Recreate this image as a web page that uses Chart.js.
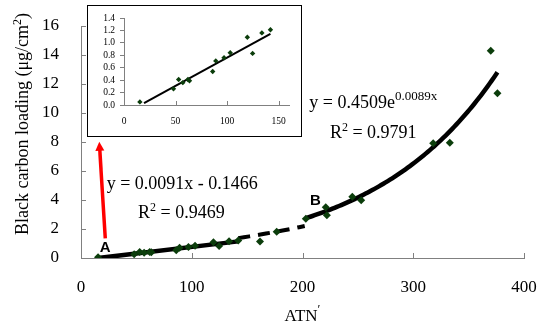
<!DOCTYPE html>
<html lang="en">
<head>
<meta charset="UTF-8">
<title>Black carbon loading vs ATN</title>
<script src="https://cdn.jsdelivr.net/npm/chart.js"></script>
<style>
  body { margin: 0; background: #fff; }
  #wrap { position: relative; width: 555px; height: 335px; }
  #inset { position: absolute; left: 87px; top: 5px; width: 213px; height: 130px;
           border: 1px solid #000; background: #fff; }
  #inset canvas { display: block; }
</style>
</head>
<body>
<div id="wrap">
  <canvas id="mainChart" width="555" height="335"></canvas>
  <div id="inset"><canvas id="insetChart" width="213" height="130"></canvas></div>
</div>
<script>
// measured points: attenuation (ATN') vs black carbon loading (ug/cm2)
const atn = [15.4, 48, 53, 57, 62, 63.5, 86, 89, 97, 103, 119.6, 124.7, 133.7, 142,
             161.6, 176.7, 203, 221, 222, 245, 253, 318, 333, 370, 376];
const bc  = [0.05, 0.26, 0.41, 0.36, 0.41, 0.39, 0.54, 0.71, 0.76, 0.84, 1.09, 0.83, 1.16, 1.21,
             1.13, 1.81, 2.71, 3.5, 2.95, 4.23, 3.98, 7.91, 7.95, 14.3, 11.36];

const xTicks = [0, 100, 200, 300, 400];
const yTicks = [0, 2, 4, 6, 8, 10, 12, 14, 16];
const insetXTicks = [0, 50, 100, 150];
const insetYTicks = [0, 0.2, 0.4, 0.6, 0.8, 1.0, 1.2, 1.4];

// fitted curves
const linSlope = 0.0091, linIntercept = -0.1466, linR2 = 0.9469;
const expA = 0.4509, expB = 0.0089, expR2 = 0.9791;
const linEnd = 13;   // last point of the linear range
const expStart = 16; // first point of the exponential range

const green = '#0b3d0b';
const axisGray = '#808080';
const serif = "'Liberation Serif', 'Times New Roman', serif";
const sans = "'Liberation Sans', Arial, sans-serif";

const lin = x => linSlope * x + linIntercept;
const expo = x => expA * Math.exp(expB * x);

const points = atn.map((x, i) => ({ x, y: bc[i] }));
const linLine = [atn[0], atn[linEnd]].map(x => ({ x, y: lin(x) }));
const expLine = [];
for (let x = atn[expStart]; x <= atn[atn.length - 1]; x += 2) expLine.push({ x, y: expo(x) });
expLine.push({ x: atn[atn.length - 1], y: expo(atn[atn.length - 1]) });
const bridgeLine = [];
for (let x = atn[linEnd]; x <= atn[expStart]; x += 5) bridgeLine.push({ x, y: (lin(x) + expo(x)) / 2 });

// short tick marks drawn on the inner side of the axes
function insideTicks(xVals, yVals, len) {
  return {
    id: 'insideTicks',
    afterDatasetsDraw(chart) {
      const { ctx, chartArea: a, scales: { x, y } } = chart;
      ctx.save();
      ctx.strokeStyle = axisGray;
      ctx.lineWidth = 1;
      ctx.beginPath();
      xVals.forEach(v => {
        const px = Math.round(x.getPixelForValue(v)) + 0.5;
        ctx.moveTo(px, a.bottom); ctx.lineTo(px, a.bottom - len);
      });
      yVals.forEach(v => {
        const py = Math.round(y.getPixelForValue(v)) + 0.5;
        ctx.moveTo(a.left, py); ctx.lineTo(a.left + len, py);
      });
      ctx.stroke();
      ctx.restore();
    }
  };
}

// draw a run of text pieces with optional size / raise (for superscripts)
function drawRich(ctx, x, y, parts, align) {
  let w = 0;
  parts.forEach(p => { ctx.font = p.size + 'px ' + serif; w += ctx.measureText(p.t).width; });
  let cx = align === 'center' ? x - w / 2 : x;
  ctx.textAlign = 'left';
  ctx.textBaseline = 'alphabetic';
  parts.forEach(p => {
    ctx.font = p.size + 'px ' + serif;
    ctx.fillText(p.t, cx, y - (p.dy || 0));
    cx += ctx.measureText(p.t).width;
  });
}

const mainDecor = {
  id: 'mainDecor',
  afterDraw(chart) {
    const { ctx, chartArea: a, scales: { x, y } } = chart;
    ctx.save();

    // red arrow from point A up to the zoomed panel
    const x0 = x.getPixelForValue(21.9), y0 = y.getPixelForValue(1.36);
    const x1 = x.getPixelForValue(16.5), y1 = y.getPixelForValue(8.02);
    const ang = Math.atan2(y1 - y0, x1 - x0);
    ctx.strokeStyle = '#ff0000';
    ctx.fillStyle = '#ff0000';
    ctx.lineWidth = 3.5;
    ctx.beginPath();
    ctx.moveTo(x0, y0);
    ctx.lineTo(x1 - 6 * Math.cos(ang), y1 - 6 * Math.sin(ang));
    ctx.stroke();
    ctx.beginPath();
    ctx.moveTo(x1, y1);
    ctx.lineTo(x1 - 9 * Math.cos(ang) + 4.5 * Math.sin(ang), y1 - 9 * Math.sin(ang) - 4.5 * Math.cos(ang));
    ctx.lineTo(x1 - 9 * Math.cos(ang) - 4.5 * Math.sin(ang), y1 - 9 * Math.sin(ang) + 4.5 * Math.cos(ang));
    ctx.closePath();
    ctx.fill();

    // point labels
    ctx.fillStyle = '#000';
    ctx.font = 'bold 15px ' + sans;
    ctx.textAlign = 'center';
    ctx.textBaseline = 'middle';
    ctx.fillText('A', x.getPixelForValue(21.9), y.getPixelForValue(0.72));
    ctx.fillText('B', x.getPixelForValue(211.6), y.getPixelForValue(3.97));

    // fit equations
    const ex = v => x.getPixelForValue(v), ey = v => y.getPixelForValue(v) + 6;
    drawRich(ctx, ex(23.2), ey(5.15), [
      { t: 'y = ' + linSlope.toFixed(4) + 'x - ' + Math.abs(linIntercept).toFixed(4), size: 18 }]);
    drawRich(ctx, ex(51.5), ey(3.19), [
      { t: 'R', size: 18 }, { t: '2', size: 12, dy: 7 }, { t: ' = ' + linR2.toFixed(4), size: 18 }]);
    drawRich(ctx, ex(206.1), ey(10.78), [
      { t: 'y = ' + expA.toFixed(4) + 'e', size: 18 }, { t: expB.toFixed(4) + 'x', size: 13, dy: 8 }]);
    drawRich(ctx, ex(224.8), ey(8.71), [
      { t: 'R', size: 18 }, { t: '2', size: 12, dy: 7 }, { t: ' = ' + expR2.toFixed(4), size: 18 }]);

    // axis titles
    drawRich(ctx, (a.left + a.right) / 2, a.bottom + 63, [
      { t: 'ATN', size: 17 }, { t: '\u2032', size: 13, dy: 8 }], 'center');
    ctx.translate(22, a.top + 98);
    ctx.rotate(-Math.PI / 2);
    drawRich(ctx, 0, 6, [
      { t: 'Black carbon loading (\u03bcg/cm', size: 18 }, { t: '2', size: 12, dy: 7 }, { t: ')', size: 18 }], 'center');
    ctx.restore();
  }
};

new Chart(document.getElementById('mainChart'), {
  type: 'scatter',
  data: {
    datasets: [
      { data: points, pointStyle: 'rectRot', radius: 4, backgroundColor: green, borderColor: green, borderWidth: 0, order: 0 },
      { data: linLine, showLine: true, borderColor: '#000', borderWidth: 4.5, pointRadius: 0, order: 1 },
      { data: bridgeLine, showLine: true, borderColor: '#000', borderWidth: 4, borderDash: [12, 8], pointRadius: 0, order: 1 },
      { data: expLine, showLine: true, borderColor: '#000', borderWidth: 4.5, pointRadius: 0, order: 1 }
    ]
  },
  options: {
    responsive: false,
    animation: false,
    devicePixelRatio: 1,
    layout: { padding: { top: 26, right: 31, left: 0, bottom: 0 } },
    plugins: { legend: { display: false }, tooltip: { enabled: false } },
    scales: {
      x: {
        type: 'linear', min: 0, max: 400,
        afterBuildTicks: s => { s.ticks = xTicks.map(v => ({ value: v })); },
        afterFit: s => { s.height = 77; },
        grid: { display: false },
        border: { display: true, color: axisGray, width: 1 },
        ticks: { color: '#000', font: { family: serif, size: 17 }, padding: 11, maxRotation: 0 }
      },
      y: {
        type: 'linear', min: 0, max: 16,
        afterBuildTicks: s => { s.ticks = yTicks.map(v => ({ value: v })); },
        afterFit: s => { s.width = 81; },
        grid: { display: false },
        border: { display: true, color: axisGray, width: 1 },
        ticks: { color: '#000', font: { family: serif, size: 17 }, padding: 14 }
      }
    }
  },
  plugins: [insideTicks(xTicks, yTicks, 5), mainDecor]
});

// zoomed view of the low-loading range
const insetPoints = points.filter(p => p.x <= insetXTicks[insetXTicks.length - 1]);
const insetLine = [atn[0] + 4, atn[linEnd]].map(x => ({ x, y: lin(x) }));

new Chart(document.getElementById('insetChart'), {
  type: 'scatter',
  data: {
    datasets: [
      { data: insetPoints, pointStyle: 'rectRot', radius: 2.7, backgroundColor: green, borderColor: green, borderWidth: 0, order: 0 },
      { data: insetLine, showLine: true, borderColor: '#000', borderWidth: 2, pointRadius: 0, order: 1 }
    ]
  },
  options: {
    responsive: false,
    animation: false,
    devicePixelRatio: 1,
    layout: { padding: { top: 12, right: 12, left: 0, bottom: 0 } },
    plugins: { legend: { display: false }, tooltip: { enabled: false } },
    scales: {
      x: {
        type: 'linear', min: 0, max: 160,
        afterBuildTicks: s => { s.ticks = insetXTicks.map(v => ({ value: v })); },
        afterFit: s => { s.height = 31; },
        grid: { display: false },
        border: { display: true, color: axisGray, width: 1 },
        ticks: { color: '#000', font: { family: serif, size: 9.5 }, padding: 3, maxRotation: 0, autoSkip: false }
      },
      y: {
        type: 'linear', min: 0, max: 1.4,
        afterBuildTicks: s => { s.ticks = insetYTicks.map(v => ({ value: v })); },
        afterFit: s => { s.width = 36; },
        grid: { display: true, drawOnChartArea: false, tickLength: 4, color: axisGray },
        border: { display: true, color: axisGray, width: 1 },
        ticks: { color: '#000', font: { family: serif, size: 9.5, lineHeight: 1 }, padding: 5, autoSkip: false,
                 callback: v => v.toFixed(1) }
      }
    }
  },
  plugins: [insideTicks(insetXTicks.slice(1), [], 4)]
});
</script>
</body>
</html>
